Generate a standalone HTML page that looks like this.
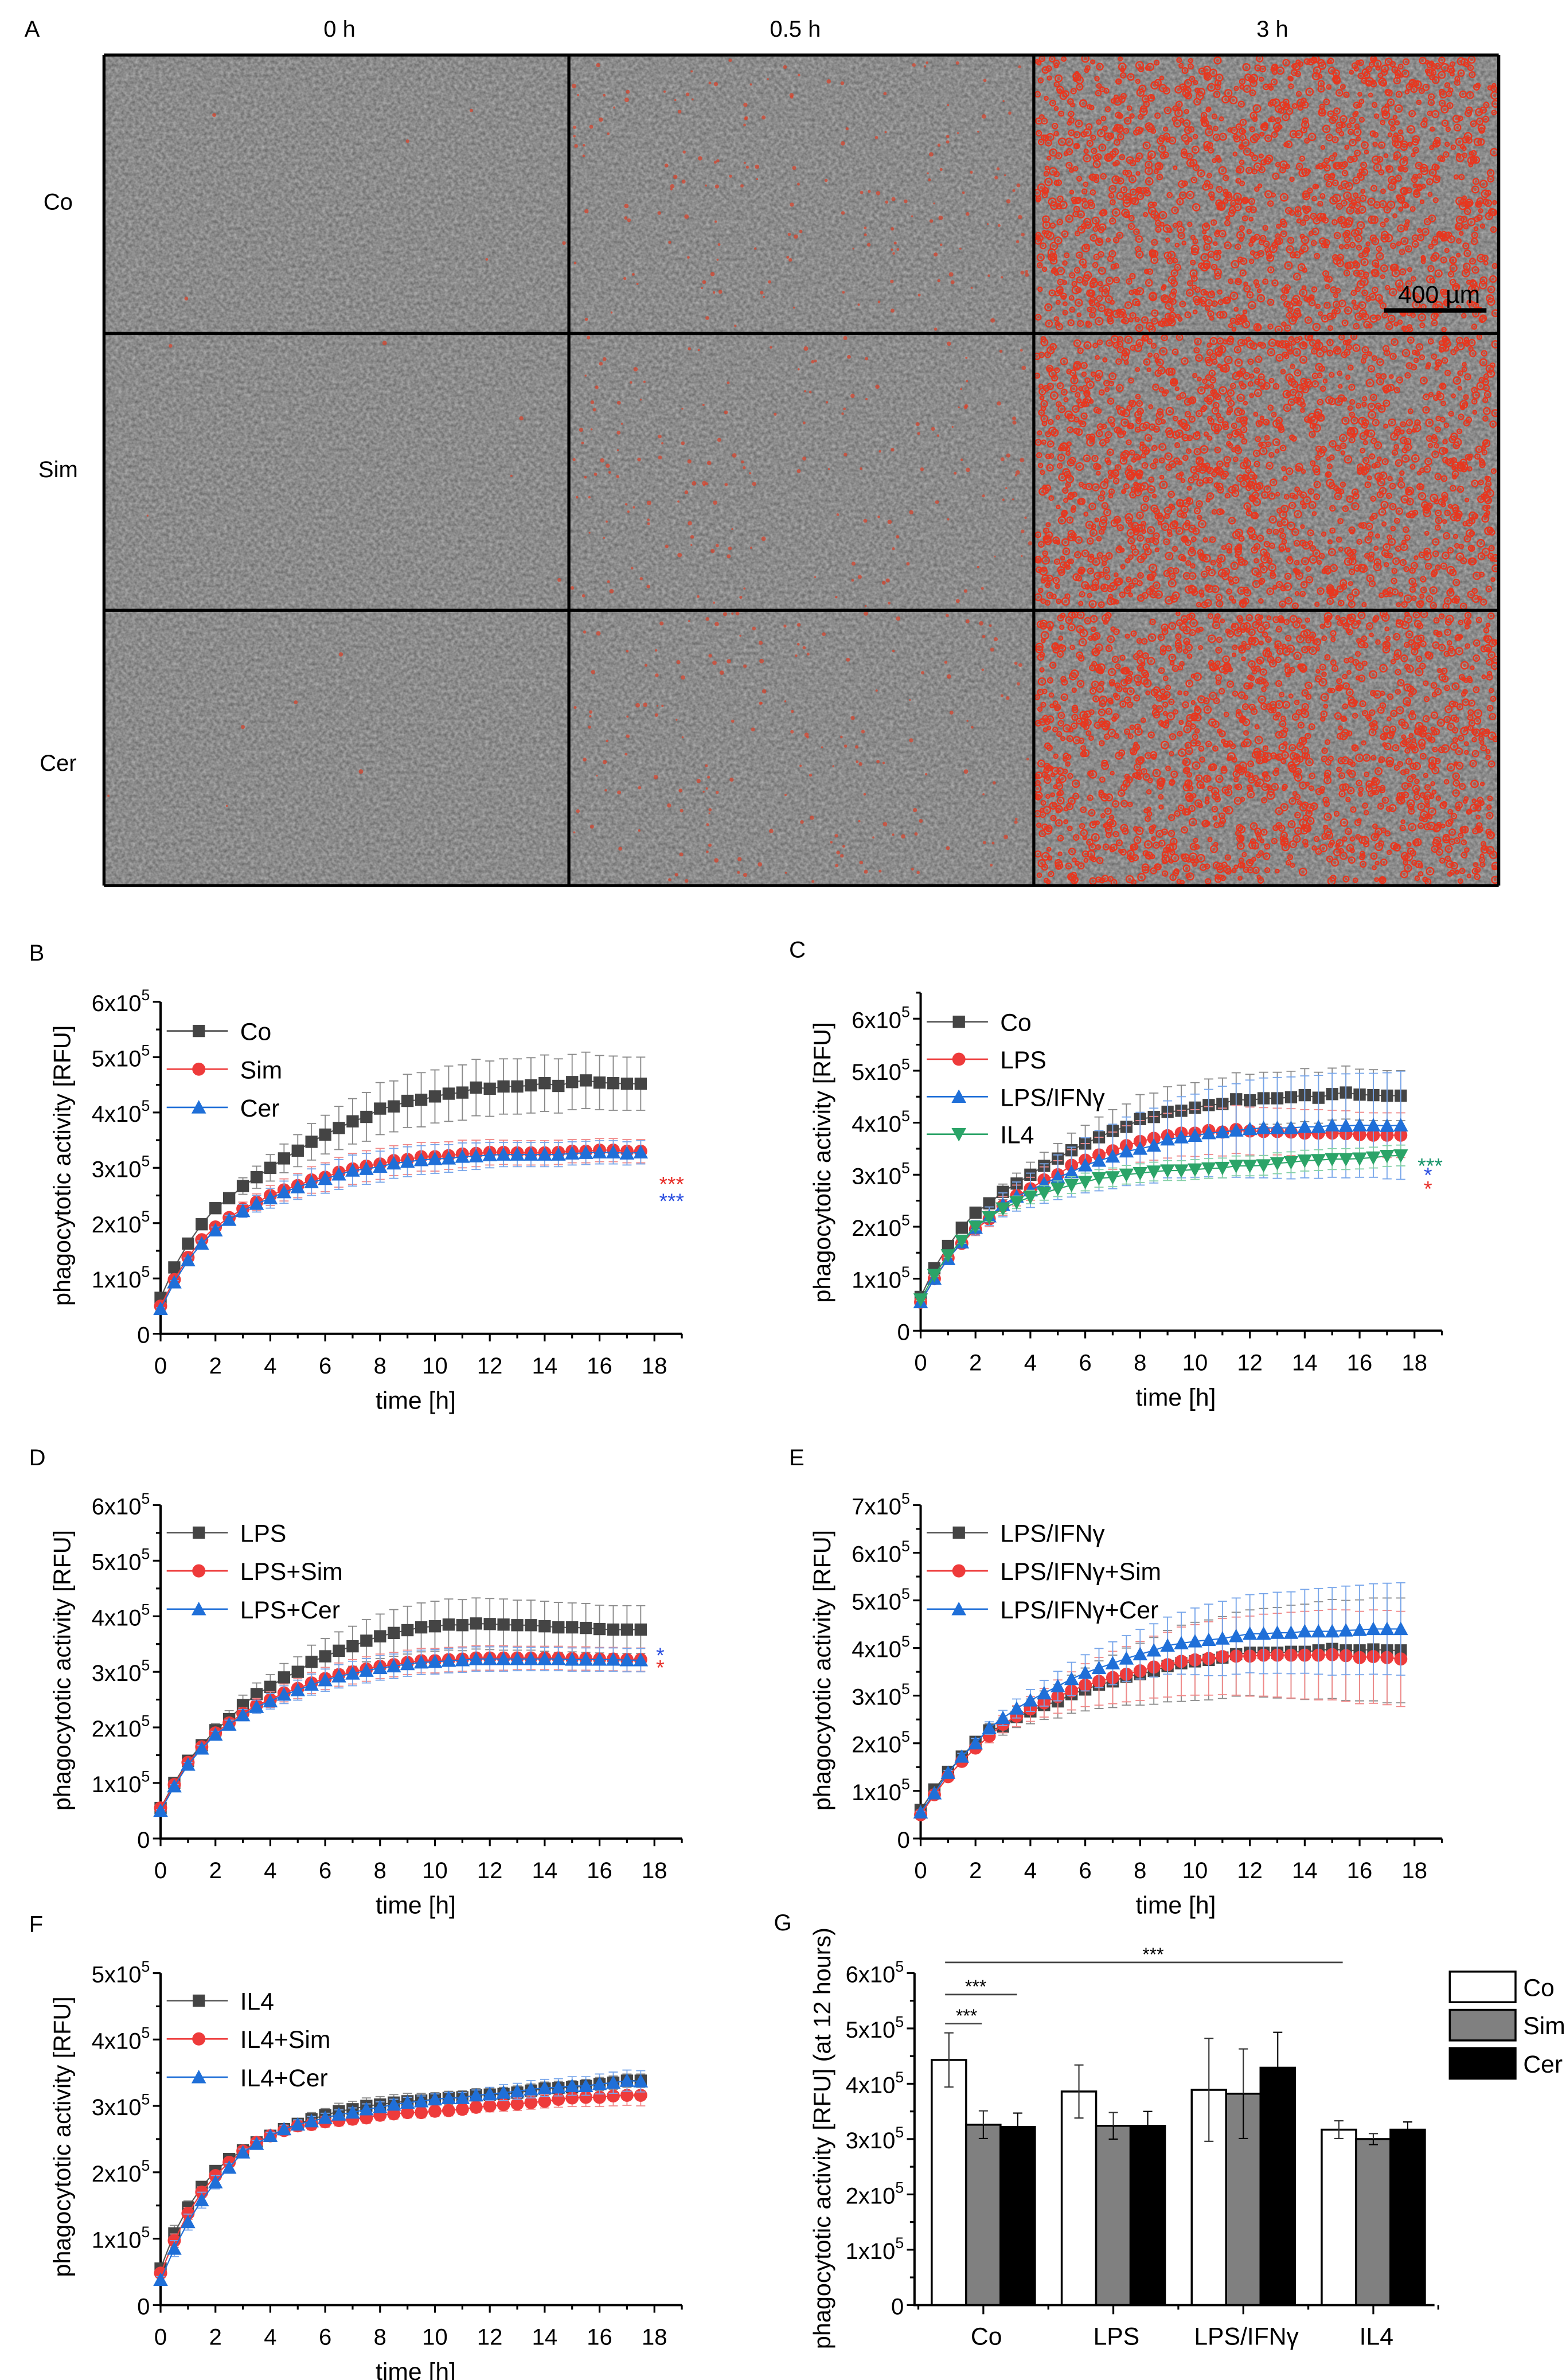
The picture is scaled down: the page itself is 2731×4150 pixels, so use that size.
<!DOCTYPE html>
<html>
<head>
<meta charset="utf-8">
<style>
html,body{margin:0;padding:0;background:#fff;}
svg{display:block;}
text{font-family:"Liberation Sans Narrow","Liberation Sans",sans-serif;}
.ttl{font-family:"Liberation Sans","DejaVu Sans",sans-serif;}
</style>
</head>
<body>
<svg id="fig" xmlns="http://www.w3.org/2000/svg" width="2731" height="4150" viewBox="0 0 1024 1556" preserveAspectRatio="none">
<defs>
<filter id="tex" x="0" y="0" width="1" height="1" color-interpolation-filters="sRGB">
<feTurbulence type="fractalNoise" baseFrequency="0.45" numOctaves="2" seed="7"/>
<feColorMatrix type="matrix" values="0.4 0 0 0 0.35  0.4 0 0 0 0.35  0.4 0 0 0 0.35  0 0 0 0 1"/>
</filter>
</defs>
<g id="micro"></g>
<g id="charts"></g>
</svg>
<script>
// ---------- shared time axis ----------
const hours = [0,0.5,1,1.5,2,2.5,3,3.5,4,4.5,5,5.5,6,6.5,7,7.5,8,8.5,9,9.5,10,10.5,11,11.5,12,12.5,13,13.5,14,14.5,15,15.5,16,16.5,17,17.5];
const xTickLabels = ["0","2","4","6","8","10","12","14","16","18"];

// ---------- panel B (values in 1e5 RFU) ----------
const bCo  = [0.65,1.2,1.63,1.98,2.27,2.45,2.67,2.83,3.0,3.17,3.31,3.47,3.6,3.72,3.84,3.92,4.07,4.11,4.21,4.23,4.29,4.34,4.36,4.45,4.43,4.47,4.47,4.49,4.53,4.48,4.55,4.58,4.54,4.53,4.52,4.52];
const bCoErr = [0.02,0.02,0.03,0.04,0.06,0.08,0.15,0.2,0.24,0.26,0.29,0.33,0.35,0.39,0.41,0.44,0.47,0.46,0.48,0.49,0.48,0.5,0.5,0.51,0.5,0.5,0.5,0.5,0.51,0.49,0.5,0.51,0.49,0.49,0.48,0.48];
const bSim = [0.5,0.98,1.38,1.7,1.93,2.1,2.26,2.38,2.5,2.6,2.68,2.78,2.83,2.92,2.98,3.03,3.07,3.13,3.15,3.2,3.2,3.22,3.25,3.26,3.28,3.28,3.27,3.27,3.27,3.28,3.3,3.3,3.32,3.32,3.3,3.3];
const bSimErr = [0.02,0.03,0.04,0.05,0.06,0.08,0.12,0.15,0.18,0.2,0.22,0.24,0.26,0.27,0.28,0.28,0.28,0.27,0.27,0.26,0.26,0.25,0.25,0.24,0.23,0.22,0.22,0.22,0.22,0.22,0.21,0.21,0.21,0.21,0.21,0.21];
const bCer = [0.45,0.93,1.33,1.63,1.87,2.06,2.22,2.35,2.45,2.56,2.65,2.74,2.8,2.88,2.95,2.98,3.02,3.08,3.11,3.14,3.16,3.17,3.2,3.21,3.23,3.24,3.24,3.24,3.24,3.24,3.26,3.27,3.28,3.28,3.26,3.28];
const bCerErr = [0.02,0.03,0.04,0.05,0.06,0.08,0.12,0.15,0.18,0.2,0.22,0.24,0.26,0.27,0.28,0.28,0.28,0.27,0.27,0.26,0.26,0.25,0.25,0.24,0.23,0.22,0.22,0.22,0.22,0.22,0.21,0.21,0.21,0.21,0.21,0.21];

// ---------- panel C ----------
const cCo  = [0.65,1.2,1.63,1.98,2.27,2.45,2.67,2.83,3.0,3.17,3.31,3.47,3.6,3.72,3.84,3.92,4.07,4.11,4.21,4.23,4.29,4.34,4.36,4.45,4.43,4.47,4.47,4.49,4.53,4.48,4.55,4.58,4.54,4.53,4.52,4.52];
const cCoErr = [0.02,0.02,0.03,0.04,0.06,0.08,0.15,0.2,0.24,0.26,0.29,0.33,0.35,0.39,0.41,0.44,0.47,0.46,0.48,0.49,0.48,0.5,0.5,0.51,0.5,0.5,0.5,0.5,0.51,0.49,0.5,0.51,0.49,0.49,0.48,0.48];
const cLps = [0.55,1.0,1.4,1.68,1.95,2.15,2.4,2.6,2.73,2.9,3.0,3.18,3.28,3.38,3.46,3.56,3.64,3.7,3.75,3.8,3.8,3.85,3.82,3.87,3.84,3.83,3.83,3.82,3.8,3.8,3.8,3.79,3.77,3.76,3.76,3.76];
const cLpsErr = [0.03,0.05,0.07,0.09,0.12,0.15,0.18,0.2,0.22,0.25,0.27,0.3,0.32,0.34,0.36,0.38,0.4,0.42,0.43,0.44,0.45,0.46,0.46,0.46,0.46,0.46,0.45,0.45,0.45,0.45,0.44,0.44,0.43,0.43,0.43,0.43];
const cLpsIfn = [0.55,1.0,1.38,1.7,1.98,2.2,2.42,2.58,2.7,2.83,2.95,3.05,3.18,3.27,3.35,3.45,3.5,3.56,3.68,3.72,3.75,3.8,3.82,3.85,3.88,3.9,3.9,3.9,3.92,3.92,3.95,3.94,3.95,3.95,3.94,3.95];
const cLpsIfnErr = [0.03,0.05,0.08,0.1,0.14,0.18,0.23,0.28,0.33,0.38,0.43,0.48,0.53,0.58,0.62,0.66,0.7,0.72,0.74,0.78,0.8,0.84,0.88,0.9,0.94,0.96,0.97,0.98,0.98,0.99,1.0,1.0,1.0,1.0,1.02,1.04];
const cIl4 = [0.6,1.07,1.45,1.73,2.0,2.18,2.35,2.47,2.57,2.65,2.73,2.8,2.86,2.93,2.95,3.0,3.03,3.06,3.08,3.08,3.1,3.12,3.13,3.17,3.17,3.18,3.22,3.24,3.27,3.28,3.3,3.3,3.31,3.33,3.36,3.37];
const cIl4Err = [0.02,0.03,0.04,0.05,0.06,0.08,0.1,0.12,0.13,0.14,0.15,0.16,0.17,0.17,0.18,0.18,0.18,0.18,0.19,0.19,0.19,0.19,0.19,0.19,0.19,0.19,0.2,0.2,0.2,0.2,0.2,0.2,0.2,0.2,0.2,0.2];

// ---------- panel D ----------
const dLps = [0.55,1.0,1.4,1.68,1.95,2.15,2.4,2.6,2.73,2.9,3.0,3.18,3.28,3.38,3.46,3.56,3.64,3.7,3.75,3.8,3.82,3.85,3.84,3.87,3.86,3.85,3.84,3.84,3.82,3.8,3.8,3.79,3.77,3.76,3.76,3.76];
const dLpsErr = [0.03,0.05,0.07,0.09,0.12,0.15,0.18,0.2,0.22,0.25,0.27,0.3,0.32,0.34,0.36,0.38,0.4,0.42,0.43,0.44,0.45,0.46,0.46,0.46,0.46,0.46,0.45,0.45,0.45,0.45,0.44,0.44,0.43,0.43,0.43,0.43];
const dSim = [0.55,0.97,1.37,1.65,1.9,2.08,2.25,2.4,2.5,2.62,2.7,2.8,2.88,2.95,3.0,3.05,3.1,3.13,3.17,3.2,3.2,3.22,3.23,3.25,3.25,3.25,3.25,3.25,3.25,3.25,3.24,3.24,3.23,3.23,3.22,3.22];
const dSimErr = [0.02,0.03,0.04,0.05,0.06,0.08,0.1,0.12,0.14,0.16,0.18,0.19,0.2,0.21,0.22,0.22,0.22,0.22,0.22,0.22,0.22,0.22,0.22,0.22,0.22,0.22,0.21,0.21,0.21,0.21,0.21,0.21,0.21,0.21,0.21,0.21];
const dCer = [0.5,0.94,1.33,1.62,1.87,2.05,2.22,2.37,2.47,2.59,2.67,2.77,2.85,2.92,2.97,3.02,3.07,3.1,3.14,3.17,3.18,3.2,3.21,3.23,3.23,3.23,3.23,3.23,3.23,3.23,3.22,3.22,3.22,3.22,3.21,3.21];
const dCerErr = [0.02,0.03,0.04,0.05,0.06,0.08,0.1,0.12,0.14,0.16,0.18,0.19,0.2,0.21,0.22,0.22,0.22,0.22,0.22,0.22,0.22,0.22,0.22,0.22,0.22,0.22,0.21,0.21,0.21,0.21,0.21,0.21,0.21,0.21,0.21,0.21];

// ---------- panel E ----------
const eLpsIfn = [0.6,1.03,1.4,1.72,2.03,2.27,2.35,2.55,2.67,2.8,2.88,3.03,3.13,3.23,3.3,3.4,3.45,3.52,3.62,3.68,3.72,3.75,3.8,3.87,3.9,3.9,3.9,3.92,3.92,3.95,3.98,3.95,3.95,3.97,3.95,3.95];
const eLpsIfnErr = [0.02,0.03,0.05,0.07,0.1,0.14,0.18,0.22,0.26,0.3,0.35,0.4,0.45,0.5,0.55,0.6,0.65,0.7,0.75,0.8,0.82,0.84,0.86,0.88,0.9,0.93,0.95,0.98,1.0,1.02,1.04,1.05,1.06,1.08,1.1,1.1];
const eSim = [0.5,0.92,1.3,1.62,1.9,2.15,2.4,2.57,2.72,2.85,2.98,3.1,3.22,3.3,3.38,3.45,3.52,3.6,3.65,3.72,3.75,3.78,3.82,3.83,3.83,3.85,3.85,3.85,3.85,3.85,3.86,3.84,3.8,3.82,3.8,3.77];
const eSimErr = [0.02,0.03,0.05,0.07,0.1,0.14,0.18,0.22,0.26,0.3,0.35,0.4,0.45,0.5,0.55,0.58,0.62,0.65,0.68,0.72,0.74,0.77,0.8,0.82,0.84,0.86,0.88,0.9,0.92,0.94,0.95,0.96,0.97,0.98,0.99,1.0];
const eCer = [0.55,0.95,1.38,1.72,2.0,2.32,2.53,2.73,2.9,3.05,3.2,3.35,3.48,3.58,3.68,3.78,3.87,3.95,4.05,4.1,4.14,4.17,4.2,4.25,4.3,4.3,4.32,4.32,4.35,4.35,4.35,4.37,4.38,4.4,4.4,4.4];
const eCerErr = [0.02,0.03,0.05,0.07,0.1,0.13,0.16,0.2,0.23,0.27,0.31,0.35,0.38,0.41,0.45,0.48,0.52,0.56,0.6,0.65,0.7,0.75,0.78,0.8,0.82,0.84,0.85,0.86,0.88,0.9,0.92,0.93,0.94,0.95,0.96,0.97];

// ---------- panel F ----------
const fIl4 = [0.55,1.08,1.47,1.78,2.02,2.2,2.33,2.45,2.55,2.65,2.73,2.8,2.86,2.92,2.95,3.0,3.02,3.05,3.07,3.08,3.1,3.12,3.13,3.16,3.17,3.18,3.2,3.23,3.26,3.27,3.28,3.3,3.33,3.35,3.38,3.38];
const fIl4Err = [0.05,0.12,0.1,0.08,0.05,0.04,0.04,0.05,0.06,0.07,0.08,0.1,0.1,0.12,0.12,0.12,0.12,0.12,0.12,0.11,0.1,0.1,0.1,0.1,0.1,0.1,0.1,0.1,0.1,0.1,0.1,0.1,0.1,0.1,0.1,0.1];
const fSim = [0.48,0.97,1.38,1.7,1.95,2.15,2.32,2.45,2.55,2.63,2.7,2.72,2.76,2.78,2.8,2.82,2.86,2.88,2.9,2.9,2.92,2.93,2.95,2.98,3.0,3.02,3.03,3.05,3.07,3.1,3.12,3.13,3.13,3.15,3.16,3.16];
const fSimErr = [0.04,0.1,0.09,0.08,0.06,0.05,0.05,0.05,0.06,0.07,0.08,0.08,0.08,0.08,0.08,0.08,0.08,0.08,0.08,0.08,0.08,0.08,0.08,0.08,0.09,0.1,0.1,0.1,0.1,0.12,0.13,0.14,0.14,0.15,0.15,0.16];
const fCer = [0.38,0.85,1.25,1.58,1.85,2.07,2.3,2.43,2.55,2.65,2.72,2.77,2.82,2.87,2.9,2.95,2.98,3.02,3.05,3.07,3.1,3.12,3.12,3.16,3.18,3.2,3.22,3.25,3.27,3.28,3.3,3.3,3.33,3.35,3.38,3.37];
const fCerErr = [0.05,0.12,0.12,0.12,0.1,0.06,0.05,0.05,0.05,0.06,0.07,0.07,0.07,0.07,0.07,0.08,0.08,0.08,0.08,0.08,0.08,0.08,0.08,0.08,0.1,0.12,0.12,0.13,0.13,0.13,0.14,0.14,0.15,0.16,0.16,0.16];

// ---------- panel G ----------
const gGroups = ["Co","LPS","LPS/IFN\u03B3","IL4"];
const gTreatments = ["Co","Sim","Cer"];
const gCo  = [4.43,3.86,3.89,3.17];
const gSim = [3.26,3.24,3.82,3.00];
const gCer = [3.22,3.24,4.29,3.17];
const gCoErr  = [0.49,0.48,0.93,0.16];
const gSimErr = [0.25,0.24,0.81,0.10];
const gCerErr = [0.25,0.26,0.64,0.14];

const NS = "http://www.w3.org/2000/svg";
const root = document.getElementById("charts");
function mk(tag, attrs, parent){
  const e = document.createElementNS(NS, tag);
  for (const k in attrs) e.setAttribute(k, attrs[k]);
  (parent||root).appendChild(e);
  return e;
}

// ---------- microscopy grid ----------
const micro = document.getElementById("micro");
let seed = 12345;
function rnd(){ seed = (seed*1103515245 + 12345) % 2147483648; return seed/2147483648; }
const colX = [68,372,676], rowY = [36,218,399], cw = 304, rh = [182,181,180];
const redCounts = [6,170,1500];
for (let r=0;r<3;r++){
  for (let c=0;c<3;c++){
    const g = mk("g",{},micro);
    
    
    mk("rect",{x:colX[c],y:rowY[r],width:cw,height:rh[r],fill:"#8a8a8a"},g);
    mk("rect",{x:colX[c],y:rowY[r],width:cw,height:rh[r],filter:"url(#tex)",opacity:"0.85"},g);
    const n = redCounts[c];
    for (let i=0;i<n;i++){
      const cx = colX[c]+2+rnd()*(cw-4), cy = rowY[r]+2+rnd()*(rh[r]-4);
      if (c===2){
        const rr = 1.1+rnd()*1.3;
        mk("circle",{cx:cx.toFixed(1),cy:cy.toFixed(1),r:rr.toFixed(2),fill:"none",stroke:"#e8361e","stroke-width":"0.9"},g);
        mk("circle",{cx:cx.toFixed(1),cy:cy.toFixed(1),r:(rr*0.45).toFixed(2),fill:"#d8402a",opacity:"0.8"},g);
      } else {
        const rr = 0.6+rnd()*0.9;
        mk("circle",{cx:cx.toFixed(1),cy:cy.toFixed(1),r:rr.toFixed(2),fill:"#d5442e",opacity:"0.75"},g);
      }
    }
  }
}
const gridPaths = [[68,36,980,36],[68,218,980,218],[68,399,980,399],[68,579,980,579],[68,36,68,579],[372,36,372,579],[676,36,676,579],[980,36,980,579]];
for (const p of gridPaths){
  const l = mk("line",{x1:p[0],y1:p[1],x2:p[2],y2:p[3],stroke:"#000","stroke-width":2},micro);
  
  
}
function txt(s, x, y, size, anchor, parent, cls){
  const t = mk("text",{x:x,y:y,"font-size":size,"text-anchor":anchor||"start"},parent);
  if (cls) t.setAttribute("class", cls);
  t.textContent = s;
  return t;
}
let t;
t = txt("A",16,24,15,"start",micro,"ttl");


const colHeads = [["0 h",222],["0.5 h",520],["3 h",832]];
for (const h of colHeads){
  t = txt(h[0],h[1],24,15,"middle",micro,"ttl");
  
  
}
const rowHeads = [["Co",137],["Sim",312],["Cer",504]];
for (const h of rowHeads){
  t = txt(h[0],38,h[1],15,"middle",micro,"ttl");
  
  
}
const sb = mk("line",{x1:905,y1:203,x2:972,y2:203,stroke:"#000","stroke-width":3},micro);


t = txt("400 \u00B5m",941,198,16,"middle",micro);



// ---------- line chart ----------
const STYLES = {
  black:{c:"#444444",e:"#8a8a8a",l:"#555"},
  red:{c:"#ee3b3b",e:"#f08a8a",l:"#ee3b3b"},
  blue:{c:"#1f6fd8",e:"#78a6ea",l:"#1f6fd8"},
  green:{c:"#2ba468",e:"#86d0a8",l:"#2ba468"}
};
function marker(g, shape, x, y, color){
  const s = 4;
  let m;
  if (shape==="square") m = mk("rect",{x:x-s,y:y-s,width:2*s,height:2*s,fill:color},g);
  else if (shape==="circle") m = mk("circle",{cx:x,cy:y,r:s+0.3,fill:color},g);
  else if (shape==="up") m = mk("polygon",{points:`${x},${y-s-0.8} ${x-s-0.8},${y+s} ${x+s+0.8},${y+s}`,fill:color},g);
  else m = mk("polygon",{points:`${x},${y+s+0.8} ${x-s-0.8},${y-s} ${x+s+0.8},${y-s}`,fill:color},g);
  return m;
}
function yLabel(g, v, x, y){
  const tt = mk("text",{x:x,y:y,"font-size":15,"text-anchor":"end"},g);
  if (v===0){ tt.textContent="0"; return tt; }
  tt.appendChild(document.createTextNode(v+"x10"));
  const sp = mk("tspan",{dy:-7,"font-size":10},tt);
  sp.textContent="5";
  return tt;
}
function lineChart(cfg){
  const g = mk("g",{});
  
  
  const X = h => cfg.x0 + h*cfg.pxH;
  const Y = v => cfg.y0 - v*cfg.pxV;
  let tl = txt(cfg.label, cfg.x0-86, cfg.y0-244, 15, "start", g, "ttl");
  
  
  const ax = mk("path",{d:`M${cfg.x0},${Y(cfg.top)} V${cfg.y0} H${X(19)}`,fill:"none",stroke:"#000","stroke-width":1.5},g);
  
  
  for (let h=0;h<=19;h++){
    const major = h%2===0;
    mk("line",{x1:X(h),y1:cfg.y0,x2:X(h),y2:cfg.y0+(major?5:3),stroke:"#000","stroke-width":1.2},g);
  }
  for (let i=0;i<xTickLabels.length;i++){
    const tk = txt(xTickLabels[i], X(i*2), cfg.y0+26, 15, "middle", g);
    
    
  }
  for (let v=0; v<=cfg.top+0.001; v+=0.5){
    const major = Math.abs(v-Math.round(v))<0.01;
    mk("line",{x1:cfg.x0,y1:Y(v),x2:cfg.x0-(major?5:3),y2:Y(v),stroke:"#000","stroke-width":1.2},g);
  }
  for (let v=0; v<=cfg.maxLabel; v++){
    const yl = yLabel(g, v, cfg.x0-7, Y(v)+6);
    
    
  }
  const xt = txt("time [h]", X(9.3), cfg.y0+49, 16, "middle", g);
  
  
  const yt = mk("text",{x:0,y:0,"font-size":15.5,"text-anchor":"middle",class:"ttl",transform:`translate(${cfg.x0-59},${cfg.y0-110}) rotate(-90)`},g);
  yt.textContent = "phagocytotic activity [RFU]";
  
  
  cfg.series.forEach((s, si) => {
    const st = STYLES[s.color];
    const sg = mk("g",{},g);
    
    
    hours.forEach((h,i)=>{
      const x = X(h), y1 = Y(s.vals[i]-s.err[i]), y2 = Y(s.vals[i]+s.err[i]);
      mk("path",{d:`M${x},${y1} V${y2} M${x-3},${y1} h6 M${x-3},${y2} h6`,stroke:st.e,"stroke-width":0.7,fill:"none"},sg);
    });
    const d = hours.map((h,i)=>(i?"L":"M")+X(h).toFixed(2)+","+Y(s.vals[i]).toFixed(2)).join(" ");
    const ln = mk("path",{d:d,fill:"none",stroke:st.l,"stroke-width":0.8},sg);
    
    
    hours.forEach((h,i)=>{
      const m = marker(sg, s.shape, X(h), Y(s.vals[i]), st.c);
      
      
    });
    const ly = cfg.legY + si*cfg.legDy;
    const lg = mk("g",{},g);
    
    
    mk("line",{x1:cfg.x0+4,y1:ly,x2:cfg.x0+44,y2:ly,stroke:st.l,"stroke-width":1},lg);
    marker(lg, s.shape, cfg.x0+25, ly, st.c);
    txt(s.key, cfg.x0+52, ly+6, 16, "start", lg);
  });
  (cfg.stars||[]).forEach(s=>{
    const st = txt(s[0], s[1], s[2], 14, "start", g, "ttl");
    st.setAttribute("style", "fill:"+s[3]);
    
    
  });
}

lineChart({name:"chart-b",label:"B",x0:105,y0:872,pxH:17.94,pxV:36.17,top:6,maxLabel:6,legY:674,legDy:25,
  series:[{key:"Co",vals:bCo,err:bCoErr,color:"black",shape:"square"},
          {key:"Sim",vals:bSim,err:bSimErr,color:"red",shape:"circle"},
          {key:"Cer",vals:bCer,err:bCerErr,color:"blue",shape:"up"}],
  stars:[["***",431,779,"#e8302a"],["***",431,790,"#2c4fe0"]]});
lineChart({name:"chart-c",label:"C",x0:602,y0:870,pxH:17.94,pxV:34.0,top:6.5,maxLabel:6,legY:668,legDy:24.5,
  series:[{key:"Co",vals:cCo,err:cCoErr,color:"black",shape:"square"},
          {key:"LPS",vals:cLps,err:cLpsErr,color:"red",shape:"circle"},
          {key:"LPS/IFN\u03B3",vals:cLpsIfn,err:cLpsIfnErr,color:"blue",shape:"up"},
          {key:"IL4",vals:cIl4,err:cIl4Err,color:"green",shape:"down"}],
  stars:[["*",931,773,"#2c4fe0"],["*",931,782,"#e8302a"],["***",927,767,"#17946a"]]});
lineChart({name:"chart-d",label:"D",x0:105,y0:1202,pxH:17.94,pxV:36.33,top:6,maxLabel:6,legY:1002,legDy:25,
  series:[{key:"LPS",vals:dLps,err:dLpsErr,color:"black",shape:"square"},
          {key:"LPS+Sim",vals:dSim,err:dSimErr,color:"red",shape:"circle"},
          {key:"LPS+Cer",vals:dCer,err:dCerErr,color:"blue",shape:"up"}],
  stars:[["*",429,1087,"#2c4fe0"],["*",429,1095,"#e8302a"]]});
lineChart({name:"chart-e",label:"E",x0:602,y0:1202,pxH:17.94,pxV:31.14,top:7,maxLabel:7,legY:1002,legDy:25,
  series:[{key:"LPS/IFN\u03B3",vals:eLpsIfn,err:eLpsIfnErr,color:"black",shape:"square"},
          {key:"LPS/IFN\u03B3+Sim",vals:eSim,err:eSimErr,color:"red",shape:"circle"},
          {key:"LPS/IFN\u03B3+Cer",vals:eCer,err:eCerErr,color:"blue",shape:"up"}]});
lineChart({name:"chart-f",label:"F",x0:105,y0:1507,pxH:17.94,pxV:43.4,top:5,maxLabel:5,legY:1308,legDy:25,
  series:[{key:"IL4",vals:fIl4,err:fIl4Err,color:"black",shape:"square"},
          {key:"IL4+Sim",vals:fSim,err:fSimErr,color:"red",shape:"circle"},
          {key:"IL4+Cer",vals:fCer,err:fCerErr,color:"blue",shape:"up"}]});

// ---------- bar chart G ----------
(function(){
  const g = mk("g",{});
  
  
  const x0 = 598, y0 = 1507, pxV = 36.17, xEnd = 938, grpStart = 643, grpStep = 85, bw = 22.5;
  const Y = v => y0 - v*pxV;
  const GX = i => grpStart + i*grpStep;
  let tl = txt("G", 506, 1262, 15, "start", g, "ttl");
  
  
  const series = [[gCo,gCoErr,"#ffffff"],[gSim,gSimErr,"#808080"],[gCer,gCerErr,"#000000"]];
  series.forEach((s,si)=>{
    s[0].forEach((v,i)=>{
      const cx = GX(i) + (si-1)*bw;
      const b = mk("rect",{x:cx-bw/2,y:Y(v),width:bw,height:v*pxV,fill:s[2],stroke:"#000","stroke-width":1.3},g);
      
      
      const e = s[1][i];
      const lo = si===0 ? v-e : v;
      const eb = mk("path",{d:`M${cx},${Y(lo)} V${Y(v+e)} M${cx-3},${Y(v+e)} h6`+(si===0?` M${cx-3},${Y(lo)} h6`:""),stroke:si===2?"#000":"#333","stroke-width":0.8,fill:"none"},g);
      
      
      if (si===1){
        const eb2 = mk("path",{d:`M${cx},${Y(v)} V${Y(v-e)} M${cx-3},${Y(v-e)} h6`,stroke:"#000","stroke-width":0.8,fill:"none"},g);
        
        
      }
    });
  });
  const ax = mk("path",{d:`M${x0},${Y(6)} V${y0} H${xEnd}`,fill:"none",stroke:"#000","stroke-width":1.5},g);
  
  
  for (let v=0; v<=6.001; v+=0.5){
    const major = Math.abs(v-Math.round(v))<0.01;
    mk("line",{x1:x0,y1:Y(v),x2:x0-(major?5:3),y2:Y(v),stroke:"#000","stroke-width":1.2},g);
  }
  for (let v=0; v<=6; v++){
    const yl = yLabel(g, v, x0-7, Y(v)+6);
    
    
  }
  for (let i=0;i<=4;i++){
    const bx = GX(i)-grpStep/2;
    if (bx>x0) mk("line",{x1:bx,y1:y0,x2:bx,y2:y0+3,stroke:"#000","stroke-width":1.2},g);
  }
  gGroups.forEach((name,i)=>{
    mk("line",{x1:GX(i),y1:y0,x2:GX(i),y2:y0+6,stroke:"#000","stroke-width":1.2},g);
    const tk = txt(name, GX(i)+2, y0+26, 16, "middle", g);
    
    
  });
  const yt = mk("text",{x:0,y:0,"font-size":15.5,"text-anchor":"middle",class:"ttl",transform:`translate(543,1398) rotate(-90)`},g);
  yt.textContent = "phagocytotic activity [RFU] (at 12 hours)";
  
  
  const sig = [[618,878,1283,754,1278],[618,665,1304,638,1299],[618,642,1323,632,1318]];
  sig.forEach(s=>{
    const l = mk("line",{x1:s[0],y1:s[2],x2:s[1],y2:s[2],stroke:"#444","stroke-width":1},g);
    
    
    const st = txt("***", s[3], s[4]+4, 12, "middle", g, "ttl");
    
    
  });
  const legFill = ["#ffffff","#808080","#000000"];
  gTreatments.forEach((name,i)=>{
    const lg = mk("g",{},g);
    
    
    const yy = 1289 + i*25;
    mk("rect",{x:948,y:yy,width:43,height:20,fill:legFill[i],stroke:"#000","stroke-width":1.3},lg);
    txt(name, 996, yy+16, 16, "start", lg);
  });
})();
</script>
</body>
</html>
